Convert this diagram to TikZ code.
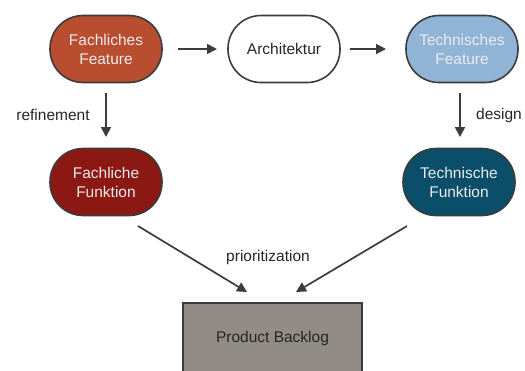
\documentclass[tikz,border=0pt]{standalone}
\usepackage{fontspec}
\setmainfont{Liberation Sans}
\usetikzlibrary{arrows.meta}
\definecolor{rustc}{HTML}{B84E2F}
\definecolor{skyc}{HTML}{8FB4D6}
\definecolor{darkredc}{HTML}{8B1812}
\definecolor{petrolc}{HTML}{0B4E6A}
\definecolor{greyboxc}{HTML}{928C86}
\definecolor{borderc}{HTML}{3C3C3C}
\definecolor{arrowc}{HTML}{403B37}
\tikzset{
  pill/.style={draw=borderc, line width=1.6pt, rounded corners=33pt, minimum width=112pt, minimum height=67pt, align=center, font=\fontsize{15.5}{19}\selectfont, inner sep=0pt},
  lighttxt/.style={text=white!92!black},
  conn/.style={draw=arrowc, line width=1.7pt, -{Triangle[length=10pt,width=10pt]}},
  lbl/.style={font=\fontsize{15.5}{19}\selectfont, text=black!85}
}
\begin{document}
\begin{tikzpicture}[x=1pt,y=-1pt]
\useasboundingbox (0,0) rectangle (525,370);
\node[pill, fill=rustc, lighttxt] (ff) at (106,49) {Fachliches\\Feature};
\node[pill, fill=white, text=black!85] (ar) at (284,49) {Architektur};
\node[pill, fill=skyc, lighttxt] (tf) at (462,49) {Technisches\\Feature};
\node[pill, fill=darkredc, lighttxt] (fk) at (106,182) {Fachliche\\Funktion};
\node[pill, fill=petrolc, lighttxt] (tk) at (459,182) {Technische\\Funktion};
\node[draw=borderc, line width=1.6pt, fill=greyboxc, minimum width=179pt, minimum height=70pt, font=\fontsize{15.5}{19}\selectfont, text=black!85] (pb) at (272.5,338) {Product Backlog};

\coordinate (a1s) at (178,49); \coordinate (a1e) at (217,49);
\coordinate (a2s) at (350,49); \coordinate (a2e) at (386,49);
\coordinate (a3s) at (106,93); \coordinate (a3e) at (106,137);
\coordinate (a4s) at (460,93); \coordinate (a4e) at (460,137);
\coordinate (a5s) at (138,226); \coordinate (a5e) at (247,292);
\coordinate (a6s) at (407,226); \coordinate (a6e) at (296,292);

\draw[conn] (a1s) -- (a1e);
\draw[conn] (a2s) -- (a2e);
\draw[conn] (a3s) -- (a3e);
\draw[conn] (a4s) -- (a4e);
\draw[conn] (a5s) -- (a5e);
\draw[conn] (a6s) -- (a6e);

\node[lbl] (l1) at (53,115) {refinement};
\node[lbl] (l2) at (499,115) {design};
\node[lbl] (l3) at (268,257) {prioritization};
\end{tikzpicture}
\end{document}
